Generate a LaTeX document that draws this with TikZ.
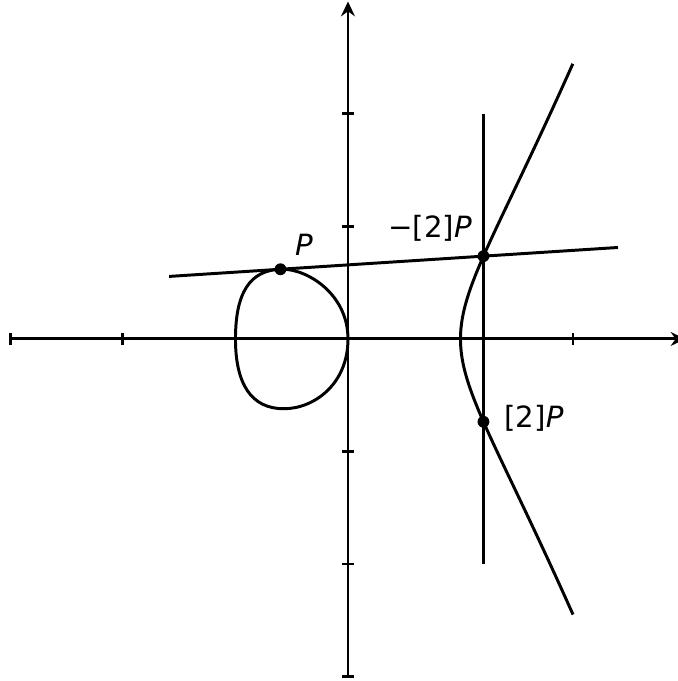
\documentclass[tikz,border=0pt]{standalone}
\usepackage{fontspec}
\setmainfont{DejaVu Sans}
\usepackage{tikz}
\usetikzlibrary{positioning, arrows.meta, calc}

\begin{document}
\begin{tikzpicture}[
  x=2cm, y=2cm, line width=1.5pt,
  ax/.style={-{Stealth[length=7.5pt, width=7pt, inset=2.5pt]}},
  lbl/.style={font=\fontsize{14.8}{17}\selectfont, inner sep=0pt},
  dot/.style={circle, fill, inner sep=0pt, minimum size=6pt},
]
  \useasboundingbox (-3.093,-3.04) rectangle (2.933,3.013);
  % axes and ticks
  \draw[ax] (-3,0) -- (3,0);
  \draw[ax] (0,-3) -- (0,3);
  \foreach \t in {-3,-2,-1,1,2} {
    \draw (\t,-0.05) -- (\t,0.05);
    \draw (-0.05,\t) -- (0.05,\t);
  }
  % the loop of y^2 = x^3 - x
  \draw (0,0) .. controls (0,0.40) and (-0.36,0.62) .. (-0.58,0.62)
              .. controls (-0.88,0.62) and (-1,0.40) .. (-1,0)
              .. controls (-1,-0.40) and (-0.86,-0.62) .. (-0.57,-0.62)
              .. controls (-0.30,-0.62) and (0,-0.40) .. cycle;
  % the right branch
  \draw[samples=120, domain=-1:1, smooth]
    plot ({1+\x*\x}, {\x*sqrt((1+\x*\x)*(2+\x*\x))});
  % tangent at P and the vertical line
  \coordinate (tanL) at (-1.59,0.5560);
  \coordinate (tanR) at (2.4,0.8133);
  \coordinate (vTop) at (1.2042,2);
  \coordinate (vBot) at (1.2042,-2);
  \draw (tanL) -- (tanR);
  \draw (vTop) -- (vBot);
  % points
  \node[dot] (P) at (-0.6,0.6197) {};
  \node[dot] (mP2) at (1.2042,0.7361) {};
  \node[dot] (P2) at (1.2042,-0.7361) {};
  \node[lbl] (Plbl) at (-0.391,0.836) {\textit{P}};
  \node[lbl] (mP2lbl) at (0.729,0.987) {−[2]\textit{P}};
  \node[lbl] (P2lbl) at (1.653,-0.702) {[2]\textit{P}};
\end{tikzpicture}
\end{document}
